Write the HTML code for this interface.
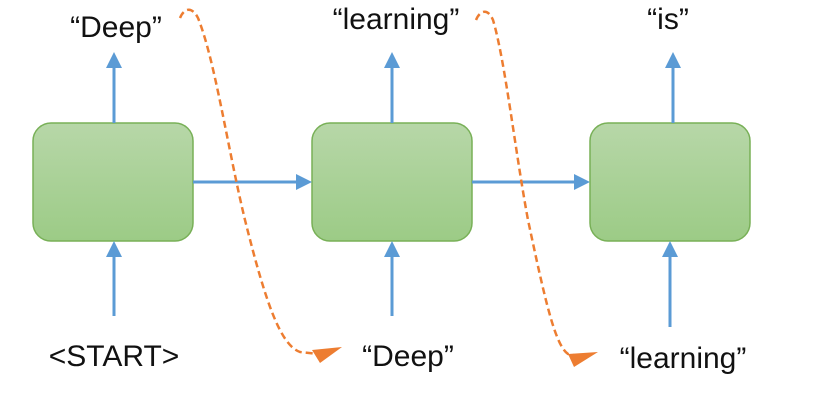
<!DOCTYPE html>
<html><head><meta charset="utf-8"><style>
html,body{margin:0;padding:0;background:#fff;}
svg{display:block;}
text{font-family:"Liberation Sans",sans-serif;font-size:30px;fill:#111;}
</style></head><body>
<svg width="832" height="408" viewBox="0 0 832 408" xmlns="http://www.w3.org/2000/svg">
<defs>
<linearGradient id="g" x1="0" y1="0" x2="0" y2="1">
<stop offset="0" stop-color="#b7d7a8"/><stop offset="1" stop-color="#9ccb86"/>
</linearGradient>
</defs>
<g fill="url(#g)" stroke="#78b057" stroke-width="1.5">
<rect x="33" y="123" width="160" height="118" rx="18"/>
<rect x="312" y="123" width="160" height="118" rx="18"/>
<rect x="590" y="123" width="160" height="118" rx="18"/>
</g>
<g stroke="#5b9bd5" stroke-width="3" fill="none">
<line x1="114" y1="123" x2="114" y2="64"/>
<line x1="392" y1="123" x2="392" y2="64"/>
<line x1="673" y1="123" x2="673" y2="64"/>
<line x1="114" y1="316" x2="114" y2="254"/>
<line x1="392" y1="316" x2="392" y2="254"/>
<line x1="670" y1="327" x2="670" y2="254"/>
<line x1="193" y1="182" x2="298" y2="182"/>
<line x1="472" y1="182" x2="576" y2="182"/>
</g>
<g fill="#5b9bd5">
<polygon points="114,52 106,68 122,68"/>
<polygon points="392,52 384,68 400,68"/>
<polygon points="673,52 665,68 681,68"/>
<polygon points="114,241 106,257 122,257"/>
<polygon points="392,241 384,257 400,257"/>
<polygon points="670,241 662,257 678,257"/>
<polygon points="312,182 296,174 296,190"/>
<polygon points="590,182 574,174 574,190"/>
</g>
<g stroke="#ed7d31" stroke-width="2.5" fill="none" stroke-dasharray="7,4">
<path d="M180,18 C184,8 192,6 198,18 C215,60 228,150 245,220 C265,300 280,345 300,352 L318,354"/>
<path d="M476,20 C480,10 488,8 493,20 C505,60 515,150 528,220 C545,300 555,345 568,354 L578,356"/>
</g>
<g fill="#ed7d31">
<polygon points="342,347 312,350 320,363"/>
<polygon points="598,352 568,354 574,367"/>
</g>
<text x="116" y="37" text-anchor="middle">“Deep”</text>
<text x="396" y="29" text-anchor="middle">“learning”</text>
<text x="668" y="29" text-anchor="middle">“is”</text>
<text x="114" y="366" text-anchor="middle">&lt;START&gt;</text>
<text x="408" y="366" text-anchor="middle">“Deep”</text>
<text x="683" y="368" text-anchor="middle">“learning”</text>
</svg>
</body></html>
